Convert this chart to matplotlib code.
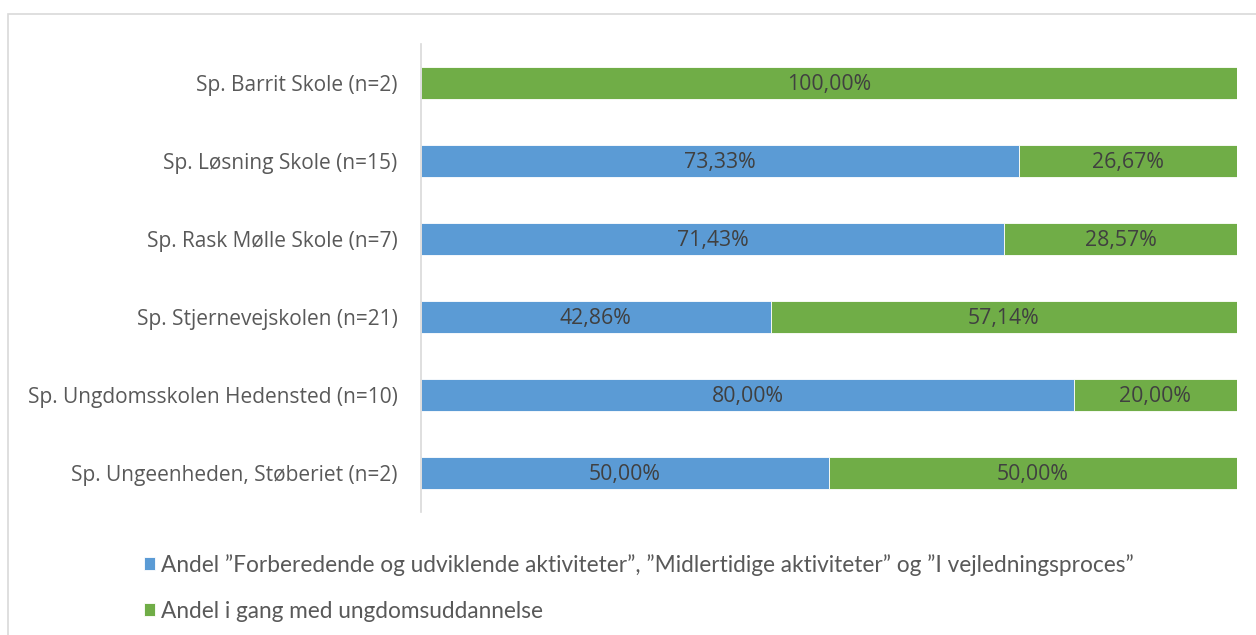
import matplotlib
matplotlib.use("Agg")
import matplotlib.pyplot as plt
from matplotlib.patches import Rectangle

categories = [
    "Sp. Barrit Skole (n=2)",
    "Sp. Løsning Skole (n=15)",
    "Sp. Rask Mølle Skole (n=7)",
    "Sp. Stjernevejskolen (n=21)",
    "Sp. Ungdomsskolen Hedensted (n=10)",
    "Sp. Ungeenheden, Støberiet (n=2)",
]
blue_vals = [0.0, 73.33, 71.43, 42.86, 80.00, 50.00]
green_vals = [100.00, 26.67, 28.57, 57.14, 20.00, 50.00]
series_names = [
    "Andel \u201dForberedende og udviklende aktiviteter\u201d, \u201dMidlertidige aktiviteter\u201d og \u201dI vejledningsproces\u201d",
    "Andel i gang med ungdomsuddannelse",
]
blue = "#5B9BD5"
green = "#70AD47"

W, H = 1256, 635
fig = plt.figure(figsize=(W / 100, H / 100), dpi=100)
# outer frame
fig.patches.append(Rectangle((8 / W, -0.1), 1.2, (H - 14) / H + 0.1, transform=fig.transFigure,
                             fill=False, edgecolor="#D9D9D9", linewidth=1.2))

ax = fig.add_axes([421 / W, 1 - 512 / H, (1237 - 421) / W, (512 - 44) / H])
n = len(categories)
y = list(range(n))[::-1]
ax.barh(y, blue_vals, height=0.4, color=blue, edgecolor="white", linewidth=0.6, label=series_names[0])
ax.barh(y, green_vals, left=blue_vals, height=0.4, color=green, edgecolor="white", linewidth=0.6, label=series_names[1])

lab_font = dict(family=["Open Sans", "DejaVu Sans"], fontsize=15.3, color="#404040")
for yi, b, g in zip(y, blue_vals, green_vals):
    if b > 0:
        ax.text(b / 2, yi - 0.02, f"{b:.2f}%".replace(".", ","), ha="center", va="center", **lab_font)
    if g > 0:
        ax.text(b + g / 2, yi - 0.02, f"{g:.2f}%".replace(".", ","), ha="center", va="center", **lab_font)

ax.set_xlim(0, 100)
ax.set_ylim(-0.5, n - 0.5)
ax.set_yticks(y)
ax.set_yticklabels(categories, family=["Open Sans", "DejaVu Sans"], fontsize=15.0, color="#595959")
ax.tick_params(axis="y", length=0, pad=17)
ax.set_xticks([])
for s in ["top", "right", "bottom"]:
    ax.spines[s].set_visible(False)
ax.spines["left"].set_color("#D9D9D9")
ax.spines["left"].set_linewidth(1.2)

leg = fig.legend(loc="upper left", bbox_to_anchor=(144 / W, 1 - 554 / H), ncol=1, frameon=False,
                 prop={"family": ["Lato", "DejaVu Sans"], "size": 16.3},
                 borderpad=0, borderaxespad=0,
                 handlelength=0.5, handleheight=0.5, handletextpad=0.25, labelspacing=1.1)
for t in leg.get_texts():
    t.set_color("#595959")

fig.savefig("out.png", dpi=100)
